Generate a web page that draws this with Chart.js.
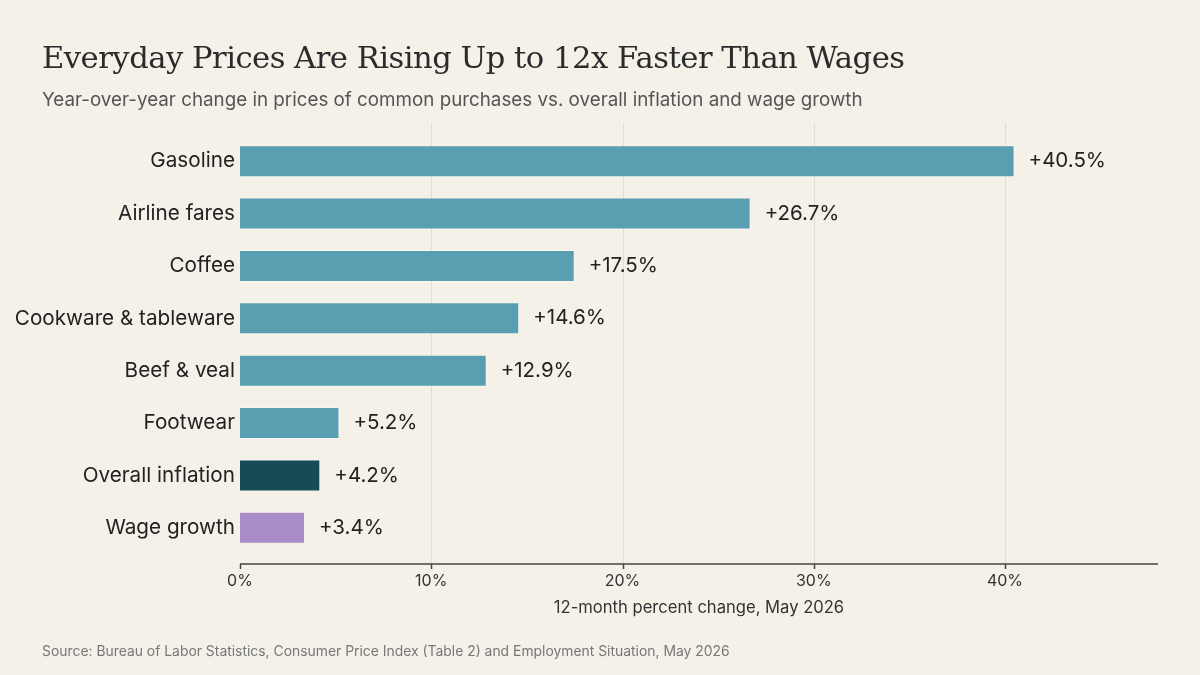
<!DOCTYPE html>
<html>
<head>
<meta charset="utf-8">
<script src="https://cdn.jsdelivr.net/npm/chart.js@4"></script>
<style>
  html, body { margin: 0; padding: 0; background: #f4f1e9; }
  #wrap { position: relative; width: 1200px; height: 675px; }
  canvas { position: absolute; left: 0; top: 0; }
  .txt { position: absolute; left: 42px; white-space: nowrap; }
  #title { top: 40px; font-family: "DejaVu Serif", serif; font-size: 30.6px; color: #2b2b2b; letter-spacing: -0.5px; }
  #subtitle { top: 88px; font-family: Inter, sans-serif; font-size: 18.8px; color: #555; }
  #xtitle { top: 597px; left: 240px; width: 918px; text-align: center; font-family: Inter, sans-serif; font-size: 16.6px; color: #333; }
  #source { top: 643px; font-family: Inter, sans-serif; font-size: 13.9px; color: #777; }
</style>
</head>
<body>
<div id="wrap">
  <canvas id="chart" width="1200" height="675"></canvas>
  <div class="txt" id="title">Everyday Prices Are Rising Up to 12x Faster Than Wages</div>
  <div class="txt" id="subtitle">Year-over-year change in prices of common purchases vs. overall inflation and wage growth</div>
  <div class="txt" id="xtitle">12-month percent change, May 2026</div>
  <div class="txt" id="source">Source: Bureau of Labor Statistics, Consumer Price Index (Table 2) and Employment Situation, May 2026</div>
</div>
<script>
const categories = ['Gasoline', 'Airline fares', 'Coffee', 'Cookware & tableware', 'Beef & veal', 'Footwear', 'Overall inflation', 'Wage growth'];
const changes = [40.5, 26.7, 17.5, 14.6, 12.9, 5.2, 4.2, 3.4];
const barColors = ['#5a9fb1', '#5a9fb1', '#5a9fb1', '#5a9fb1', '#5a9fb1', '#5a9fb1', '#174c56', '#a98bc8'];
const xTicks = [0, 10, 20, 30, 40];

// gridlines and the axis line run a little past the bar bands
const gridPlugin = {
  id: 'grid',
  beforeDatasetsDraw(chart) {
    const { ctx, chartArea, scales } = chart;
    const top = chartArea.top - 12, bottom = chartArea.bottom + 10;
    ctx.save();
    ctx.strokeStyle = '#dcdfd6';
    ctx.lineWidth = 1;
    xTicks.slice(1).forEach(v => {
      const x = Math.round(scales.x.getPixelForValue(v)) + 0.5;
      ctx.beginPath(); ctx.moveTo(x, top); ctx.lineTo(x, bottom); ctx.stroke();
    });
    ctx.strokeStyle = '#444';
    ctx.lineWidth = 1.5;
    ctx.beginPath(); ctx.moveTo(chartArea.left, bottom); ctx.lineTo(chartArea.right, bottom); ctx.stroke();
    xTicks.forEach(v => {
      const x = Math.round(scales.x.getPixelForValue(v)) + 0.5;
      ctx.beginPath(); ctx.moveTo(x, bottom); ctx.lineTo(x, bottom + 5); ctx.stroke();
    });
    ctx.restore();
  }
};

const labelPlugin = {
  id: 'valueLabels',
  afterDatasetsDraw(chart) {
    const { ctx } = chart;
    const meta = chart.getDatasetMeta(0);
    ctx.save();
    ctx.font = '20.5px Inter';
    ctx.fillStyle = '#222';
    ctx.textAlign = 'left';
    ctx.textBaseline = 'middle';
    meta.data.forEach((bar, i) => {
      ctx.fillText('+' + changes[i].toFixed(1) + '%', bar.x + 14, bar.y);
    });
    ctx.restore();
  }
};

new Chart(document.getElementById('chart'), {
  type: 'bar',
  data: {
    labels: categories,
    datasets: [{
      data: changes,
      backgroundColor: barColors,
      borderColor: 'rgba(255,255,255,0.35)',
      borderWidth: 1,
      borderSkipped: 'start',
      categoryPercentage: 1,
      barPercentage: 0.61
    }]
  },
  options: {
    indexAxis: 'y',
    responsive: false,
    animation: false,
    layout: { padding: { top: 135, right: 42, bottom: 0, left: 0 } },
    plugins: { legend: { display: false }, tooltip: { enabled: false } },
    scales: {
      x: {
        min: 0,
        max: 48,
        afterBuildTicks(scale) { scale.ticks = xTicks.map(v => ({ value: v })); },
        afterFit(scale) { scale.height = 121; },
        grid: { display: false },
        border: { display: false },
        ticks: {
          padding: 10,
          color: '#333',
          font: { family: 'Inter', size: 16 },
          callback: v => v + '%'
        }
      },
      y: {
        afterFit(scale) { scale.width = 240; },
        grid: { display: false, drawTicks: false },
        border: { display: false },
        ticks: {
          padding: 5,
          color: '#222',
          font: { family: 'Inter', size: 20.7 }
        }
      }
    }
  },
  plugins: [gridPlugin, labelPlugin]
});
</script>
</body>
</html>
